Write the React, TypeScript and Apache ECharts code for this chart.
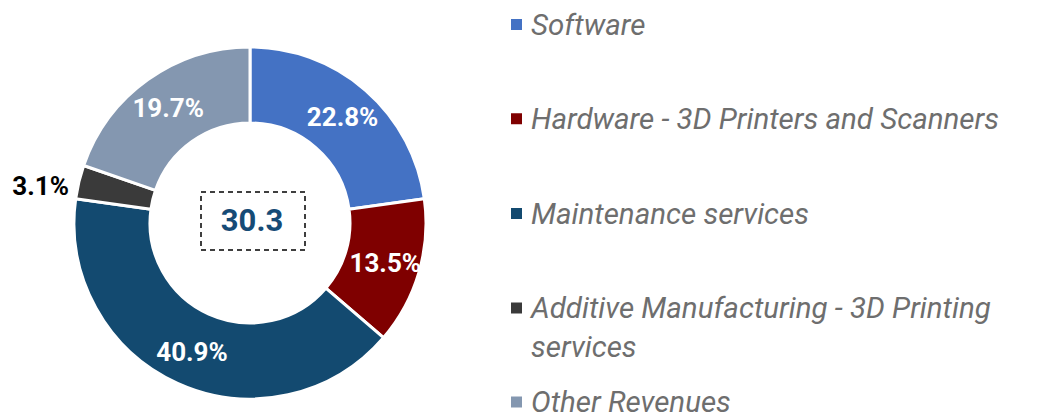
import React, { useEffect, useRef } from "react";
import * as echarts from "echarts";

const categories: string[] = [
  "Software",
  "Hardware - 3D Printers and Scanners",
  "Maintenance services",
  "Additive Manufacturing - 3D Printing services",
  "Other Revenues",
];
const shares: number[] = [22.8, 13.5, 40.9, 3.1, 19.7];
const colors: string[] = ["#4472C4", "#7F0000", "#134A70", "#3A3A3A", "#8497B0"];
const centerValue = "30.3";
const legendIconCenters: number[] = [24.5, 118.7, 213.5, 308, 402];

export default function App() {
  const ref = useRef<HTMLDivElement>(null);
  useEffect(() => {
    document.body.style.margin = "0";
    if (!ref.current) return;
    const chart = echarts.init(ref.current, null, { renderer: "svg" });
    const lh = 39;
    const legends = categories.map((name, i) => {
      const twoLine = name.startsWith("Additive");
      const last = i === categories.length - 1;
      const itemLh = last ? 30 : lh;
      const h = twoLine ? lh * 3 : itemLh;
      return {
        orient: "vertical",
        left: 509,
        top: legendIconCenters[i] - h / 2,
        padding: 0,
        itemWidth: 13,
        itemHeight: 13,
        icon: "rect",
        selectedMode: false,
        data: [name],
        formatter: (n: string) =>
          n.startsWith("Additive")
            ? "\nAdditive Manufacturing - 3D Printing\nservices"
            : n,
        textStyle: {
          fontFamily: "Roboto",
          fontStyle: "italic",
          fontSize: 29.5,
          lineHeight: itemLh,
          color: "#6E6E6E",
          padding: [0, 0, 0, 3],
        },
      };
    });
    chart.setOption({
      animation: false,
      color: colors,
      legend: legends,
      graphic: [
        {
          type: "rect",
          shape: { x: 201, y: 192, width: 104, height: 58 },
          style: { fill: "none", stroke: "#000", lineWidth: 1.5, lineDash: [5, 4] },
        },
        {
          type: "text",
          x: 252,
          y: 220,
          style: {
            text: centerValue,
            fontFamily: "Roboto",
            fontWeight: "bold",
            fontSize: 31,
            fill: "#164B76",
            align: "center",
            verticalAlign: "middle",
          },
        },
      ],
      series: [
        {
          type: "pie",
          center: [250, 223],
          radius: [100, 176],
          startAngle: 90,
          clockwise: true,
          avoidLabelOverlap: false,
          itemStyle: { borderColor: "#fff", borderWidth: 3 },
          label: {
            show: true,
            position: "inside",
            formatter: (p: any) => p.value.toFixed(1) + "%",
            fontFamily: "Roboto",
            fontWeight: "bold",
            fontSize: 26,
            color: "#fff",
          },
          labelLine: { show: false },
          labelLayout: (p: any) => (p.dataIndex === 3 ? { dy: 5 } : {}),
          data: categories.map((name, i) => {
            const d: any = { name, value: shares[i] };
            if (i === 3) {
              d.label = { position: "outside", color: "#000", distanceToLabelLine: 4 };
              d.labelLine = { show: false, length: 2, length2: 4 };
            }
            return d;
          }),
        },
      ],
    });
    return () => chart.dispose();
  }, []);
  return <div ref={ref} style={{ width: 1048, height: 413 }} />;
}
